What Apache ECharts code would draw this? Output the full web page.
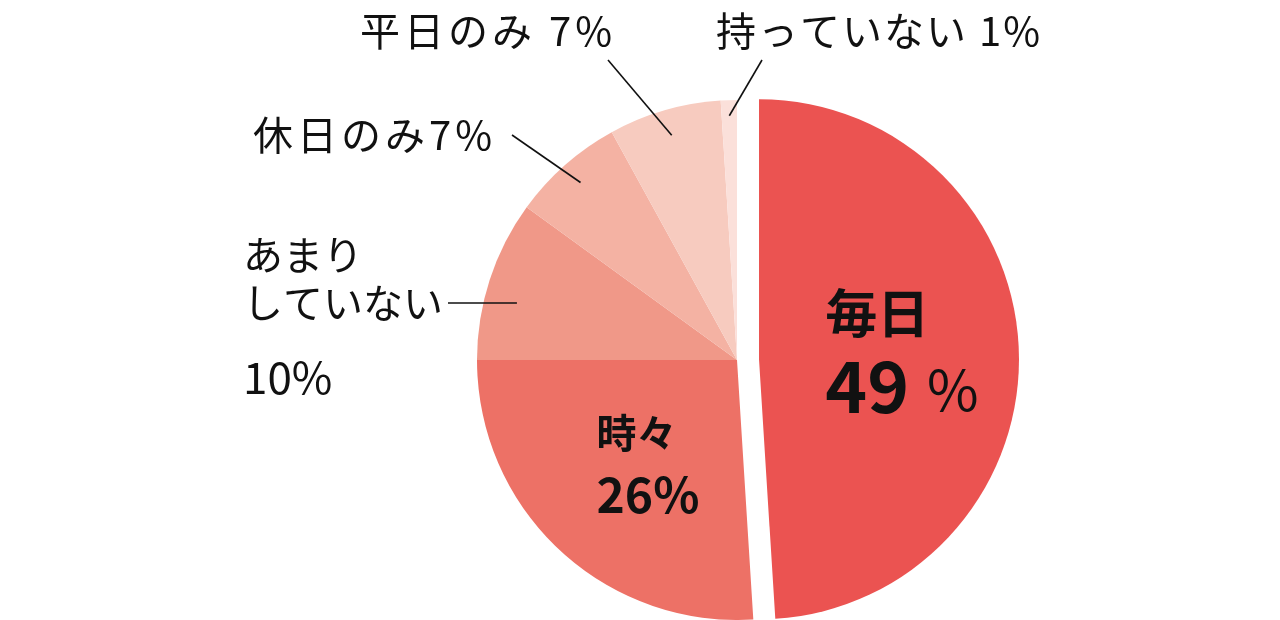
<!DOCTYPE html>
<html>
<head>
<meta charset="utf-8">
<script src="https://cdn.jsdelivr.net/npm/echarts@6/dist/echarts.min.js"></script>
<style>
  html, body { margin: 0; padding: 0; background: #fff; }
  #chart { width: 1280px; height: 620px; }
</style>
</head>
<body>
<div id="chart"></div>
<script>
// data
const categories = ['毎日', '時々', 'あまりしていない', '休日のみ', '平日のみ', '持っていない']
const shares = [49, 26, 10, 7, 7, 1]
const colors = ['#EB5351', '#ED7166', '#F09888', '#F4B2A3', '#F7CBBF', '#FBE0DA']

const CX = 737
const CY = 360
const R = 260
const FONT = '"Noto Sans CJK JP", "Noto Sans", sans-serif'

// nudges for the labels that sit inside their slices
const inside = {
  0: { dx: 10, dy: 0 },
  1: { dx: 2, dy: 12 },
}

// where the outside labels sit, where their leader lines end,
// and how deep into the slice the line starts (fraction of radius)
const outside = {
  2: { x: 243, y: 231, align: 'left', va: 'top', end: [448, 303], depth: 0.89, flat: true },
  3: { x: 492, y: 135, align: 'right', va: 'middle', end: [512, 135], depth: 0.91 },
  4: { x: 612, y: 31, align: 'right', va: 'middle', end: [608, 60], depth: 0.9 },
  5: { x: 716, y: 31, align: 'left', va: 'middle', end: [762, 60], depth: 0.94 },
}

const base = { fontFamily: FONT, color: '#111', align: 'left' }
const rich = {
  big: Object.assign({}, base, { fontSize: 52, fontWeight: 'bold', lineHeight: 62 }),
  bigNum: Object.assign({}, base, { fontSize: 71, fontWeight: 'bold', lineHeight: 84 }),
  bigPct: Object.assign({}, base, { fontSize: 56, lineHeight: 84, padding: [8, 0, 0, 18] }),
  mid: Object.assign({}, base, { fontSize: 40, fontWeight: 'bold', lineHeight: 52 }),
  midNum: Object.assign({}, base, { fontSize: 48, fontWeight: 'bold', lineHeight: 72 }),
  t: Object.assign({}, base, { fontSize: 40, lineHeight: 48 }),
  s4: Object.assign({}, base, { fontSize: 40, lineHeight: 48, padding: [0, 4, 0, 0] }),
  s2: Object.assign({}, base, { fontSize: 40, lineHeight: 48, padding: [0, 2, 0, 0] }),
  g: Object.assign({}, base, { fontSize: 44, lineHeight: 100 }),
}

// spread the characters a little, like the tracked type of the original
function spaced(text, style) {
  const chars = text.split('')
  return chars.map((c, k) => (k < chars.length - 1 ? `{${style}|${c}}` : `{t|${c}}`)).join('')
}

function innerLabel(i) {
  const name = categories[i]
  const v = shares[i]
  if (i === 0) return { show: true, position: 'inside', rich: rich, formatter: `{big|${name}}\n{bigNum|${v}}{bigPct|%}` }
  if (i === 1) return { show: true, position: 'inside', rich: rich, formatter: `{mid|${name}}\n{midNum|${v}%}` }
  return { show: false }
}

function outerLabel(i) {
  const name = categories[i]
  const v = shares[i]
  if (i < 2) return { show: false }
  if (i === 2) return { show: true, position: 'outside', rich: rich, formatter: `{t|あまり}\n{t|していない}\n{g|${v}%}` }
  if (i === 3) return { show: true, position: 'outside', rich: rich, formatter: spaced(`${name}${v}%`, 's4') }
  if (i === 4) return { show: true, position: 'outside', rich: rich, formatter: spaced(`${name} ${v}%`, 's4') }
  return { show: true, position: 'outside', rich: rich, formatter: spaced(`${name} ${v}%`, 's2') }
}

const fillData = categories.map((name, i) => ({
  name: name,
  value: shares[i],
  selected: i === 0,
  itemStyle: { color: colors[i], borderWidth: 0 },
  select: { itemStyle: { color: colors[i], borderWidth: 0 } },
  label: innerLabel(i),
  labelLine: { show: false },
}))

// same slices, invisible, drawn on top so the leader lines run over the fill
const guideData = categories.map((name, i) => ({
  name: name,
  value: shares[i],
  itemStyle: { color: 'rgba(0,0,0,0)', borderWidth: 0 },
  label: outerLabel(i),
  labelLine: { show: i >= 2, lineStyle: { color: '#111', width: 1.6 } },
}))

const chart = echarts.init(document.getElementById('chart'), null, { renderer: 'canvas' })
chart.setOption({
  animation: false,
  backgroundColor: '#ffffff',
  series: [
    {
      type: 'pie',
      z: 2,
      center: [CX, CY],
      radius: R,
      startAngle: 90,
      clockwise: true,
      selectedMode: 'single',
      selectedOffset: 22,
      avoidLabelOverlap: false,
      emphasis: { disabled: true },
      data: fillData,
      labelLayout: function (params) {
        const n = inside[params.dataIndex]
        return n ? { dx: n.dx, dy: n.dy } : {}
      },
    },
    {
      type: 'pie',
      z: 3,
      silent: true,
      center: [CX, CY],
      radius: R,
      startAngle: 90,
      clockwise: true,
      avoidLabelOverlap: false,
      emphasis: { disabled: true },
      data: guideData,
      labelLayout: function (params) {
        const o = outside[params.dataIndex]
        if (!o) return {}
        const edge = params.labelLinePoints ? params.labelLinePoints[0] : null
        let start = o.end
        if (edge) {
          start = [CX + o.depth * (edge[0] - CX), CY + o.depth * (edge[1] - CY)]
          if (o.flat) start[1] = o.end[1]
        }
        return {
          x: o.x,
          y: o.y,
          align: o.align,
          verticalAlign: o.va,
          labelLinePoints: [start, o.end, o.end],
        }
      },
    },
  ],
})
</script>
</body>
</html>
